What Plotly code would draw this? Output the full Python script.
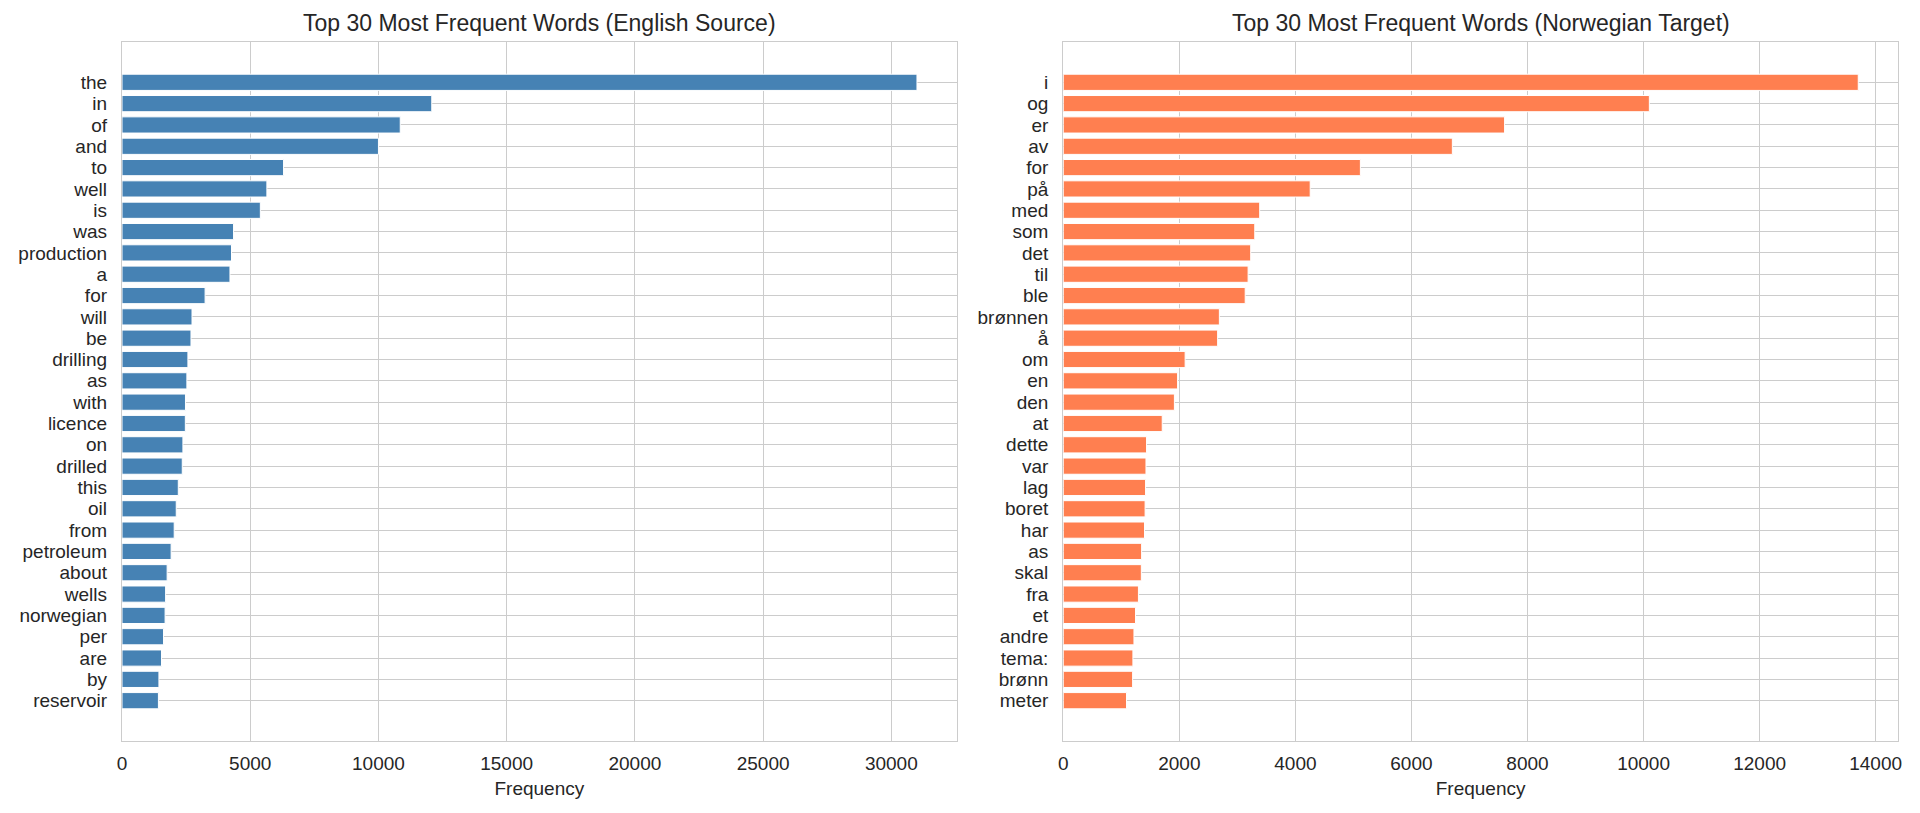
import plotly.graph_objects as go
from plotly.subplots import make_subplots

en_words = ["the", "in", "of", "and", "to", "well", "is", "was", "production", "a",
            "for", "will", "be", "drilling", "as", "with", "licence", "on", "drilled", "this",
            "oil", "from", "petroleum", "about", "wells", "norwegian", "per", "are", "by", "reservoir"]
en_counts = [31000, 12080, 10850, 10000, 6300, 5650, 5395, 4350, 4270, 4210,
             3240, 2730, 2690, 2570, 2530, 2475, 2470, 2375, 2350, 2195,
             2115, 2035, 1915, 1760, 1700, 1680, 1620, 1540, 1440, 1420]

no_words = ["i", "og", "er", "av", "for", "på", "med", "som", "det", "til",
            "ble", "brønnen", "å", "om", "en", "den", "at", "dette", "var", "lag",
            "boret", "har", "as", "skal", "fra", "et", "andre", "tema:", "brønn", "meter"]
no_counts = [13700, 10100, 7605, 6705, 5120, 4255, 3385, 3300, 3230, 3185,
             3135, 2690, 2660, 2100, 1970, 1915, 1705, 1435, 1425, 1418,
             1410, 1400, 1350, 1345, 1295, 1245, 1218, 1200, 1195, 1090]

titles = ["Top 30 Most Frequent Words (English Source)",
          "Top 30 Most Frequent Words (Norwegian Target)"]
x_label = "Frequency"

FONT = "Liberation Sans, Arial, sans-serif"
TXT = "#262626"
GRID = "#cccccc"

fig = make_subplots(rows=1, cols=2, horizontal_spacing=0.06)

fig.add_trace(go.Bar(y=en_words, x=en_counts, orientation="h",
                     marker=dict(color="#4682B4", line=dict(color="white", width=1)),
                     width=0.76, showlegend=False), row=1, col=1)
fig.add_trace(go.Bar(y=no_words, x=no_counts, orientation="h",
                     marker=dict(color="#FF7F50", line=dict(color="white", width=1)),
                     width=0.76, showlegend=False), row=1, col=2)

n = len(en_words)
pad = 0.05 * (n - 1 + 0.8)
yr = [n - 1 + 0.4 + pad, -0.4 - pad]

axis_common = dict(showgrid=True, gridcolor=GRID, gridwidth=1.3, showline=True,
                   linecolor=GRID, linewidth=1.3, mirror=True, ticks="",
                   zeroline=False, tickfont=dict(size=19, color=TXT, family=FONT))

fig.update_xaxes(**axis_common)
fig.update_yaxes(**axis_common)

fig.update_xaxes(range=[0, max(en_counts) * 1.05], dtick=5000, tickformat="d",
                 domain=[0, 0.470], row=1, col=1)
fig.update_xaxes(range=[0, max(no_counts) * 1.05], dtick=2000, tickformat="d",
                 domain=[0.530, 1], row=1, col=2)
for c in (1, 2):
    fig.update_xaxes(title=dict(text=x_label, font=dict(size=19, color=TXT, family=FONT),
                                standoff=8), ticklabelstandoff=5, row=1, col=c)
    fig.update_yaxes(range=yr, type="category", tickmode="linear", dtick=1,
                     ticklabelstandoff=10, row=1, col=c)

annotations = []
for i, t in enumerate(titles):
    xc = (0 + 0.470) / 2 if i == 0 else (0.530 + 1) / 2
    annotations.append(dict(text=t, x=xc, y=1.027, xref="paper", yref="paper",
                            xanchor="center", yanchor="middle", showarrow=False,
                            font=dict(size=23, color=TXT, family=FONT)))

fig.update_layout(width=1904, height=797, margin=dict(l=109, r=10, t=34, b=63),
                  paper_bgcolor="white", plot_bgcolor="white",
                  font=dict(family=FONT, color=TXT), annotations=annotations,
                  bargap=0.2)

fig.write_html("out.html")
